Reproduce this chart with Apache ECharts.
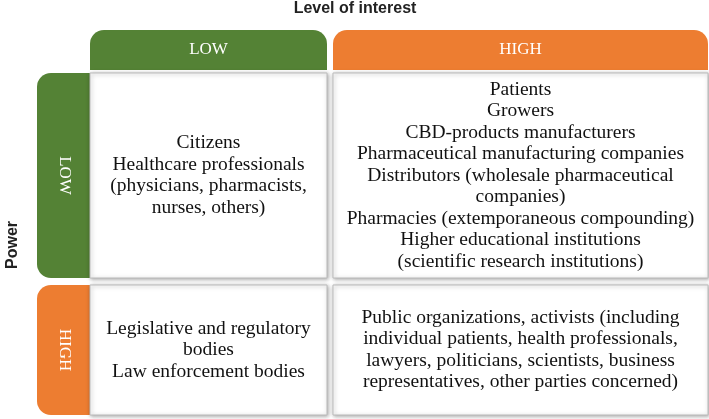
<!DOCTYPE html><html><head><meta charset="utf-8">
<script src="https://cdn.jsdelivr.net/npm/echarts@6/dist/echarts.min.js"></script>
<style>html,body{margin:0;padding:0;background:#fff}#c{width:709px;height:419px}</style></head><body><div id="c"></div>
<script>
const title = "Level of interest";
const yTitle = "Power";
const colHeaders = ["LOW", "HIGH"];
const rowHeaders = ["LOW", "HIGH"];
const cellLowLow = ["Citizens","Healthcare professionals","(physicians, pharmacists,","nurses, others)"];
const cellLowHigh = ["Patients","Growers","CBD-products manufacturers","Pharmaceutical manufacturing companies","Distributors (wholesale pharmaceutical","companies)","Pharmacies (extemporaneous compounding)","Higher educational institutions","(scientific research institutions)"];
const cellHighLow = ["Legislative and regulatory","bodies","Law enforcement bodies"];
const cellHighHigh = ["Public organizations, activists (including","individual patients, health professionals,","lawyers, politicians, scientists, business","representatives, other parties concerned)"];
const GREEN="#548235", ORANGE="#ED7D31", SERIF="Liberation Serif";
const cols=[[90,327],[333,708]], rows=[[73,278],[285,415]];
const colColors=[GREEN,ORANGE];
const els=[];
els.push({type:'text',style:{text:title,x:355,y:9,align:'center',verticalAlign:'middle',font:'bold 16px Liberation Sans',fill:'#222'}});
els.push({type:'text',rotation:Math.PI/2,x:13,y:245,style:{text:yTitle,align:'center',verticalAlign:'middle',font:'bold 16px Liberation Sans',fill:'#222'}});
colHeaders.forEach((h,i)=>{
 els.push({type:'rect',shape:{x:cols[i][0],y:30,width:cols[i][1]-cols[i][0],height:40,r:[14,14,0,0]},style:{fill:colColors[i]}});
 els.push({type:'text',style:{text:h,x:(cols[i][0]+cols[i][1])/2,y:50,align:'center',verticalAlign:'middle',font:'17px '+SERIF,fill:'#fff'}});
});
rowHeaders.forEach((h,i)=>{
 els.push({type:'rect',shape:{x:37,y:rows[i][0],width:65,height:rows[i][1]-rows[i][0],r:[14,0,0,14]},style:{fill:colColors[i]}});
 els.push({type:'text',rotation:-Math.PI/2,x:64,y:(rows[i][0]+rows[i][1])/2,style:{text:h,align:'center',verticalAlign:'middle',font:'17px '+SERIF,fill:'#fff'}});
});
const cells=[[cellLowLow,0,0],[cellLowHigh,0,1],[cellHighLow,1,0],[cellHighHigh,1,1]];
cells.forEach(([lines,r,c])=>{
 const x0=cols[c][0],x1=cols[c][1],y0=rows[r][0],y1=rows[r][1];
 els.push({type:'rect',shape:{x:x0,y:y0,width:x1-x0,height:y1-y0},style:{fill:'#fff',stroke:'#bbb',lineWidth:1,shadowBlur:4,shadowColor:'rgba(0,0,0,0.35)',shadowOffsetX:1,shadowOffsetY:1}});
 els.push({type:'text',style:{text:lines.join('\n'),x:(x0+x1)/2,y:(y0+y1)/2,align:'center',verticalAlign:'middle',font:'19.5px '+SERIF,lineHeight:21.5,fill:'#111'}});
});
const chart=echarts.init(document.getElementById('c'));
chart.setOption({animation:false,graphic:{elements:els}});
</script></body></html>
